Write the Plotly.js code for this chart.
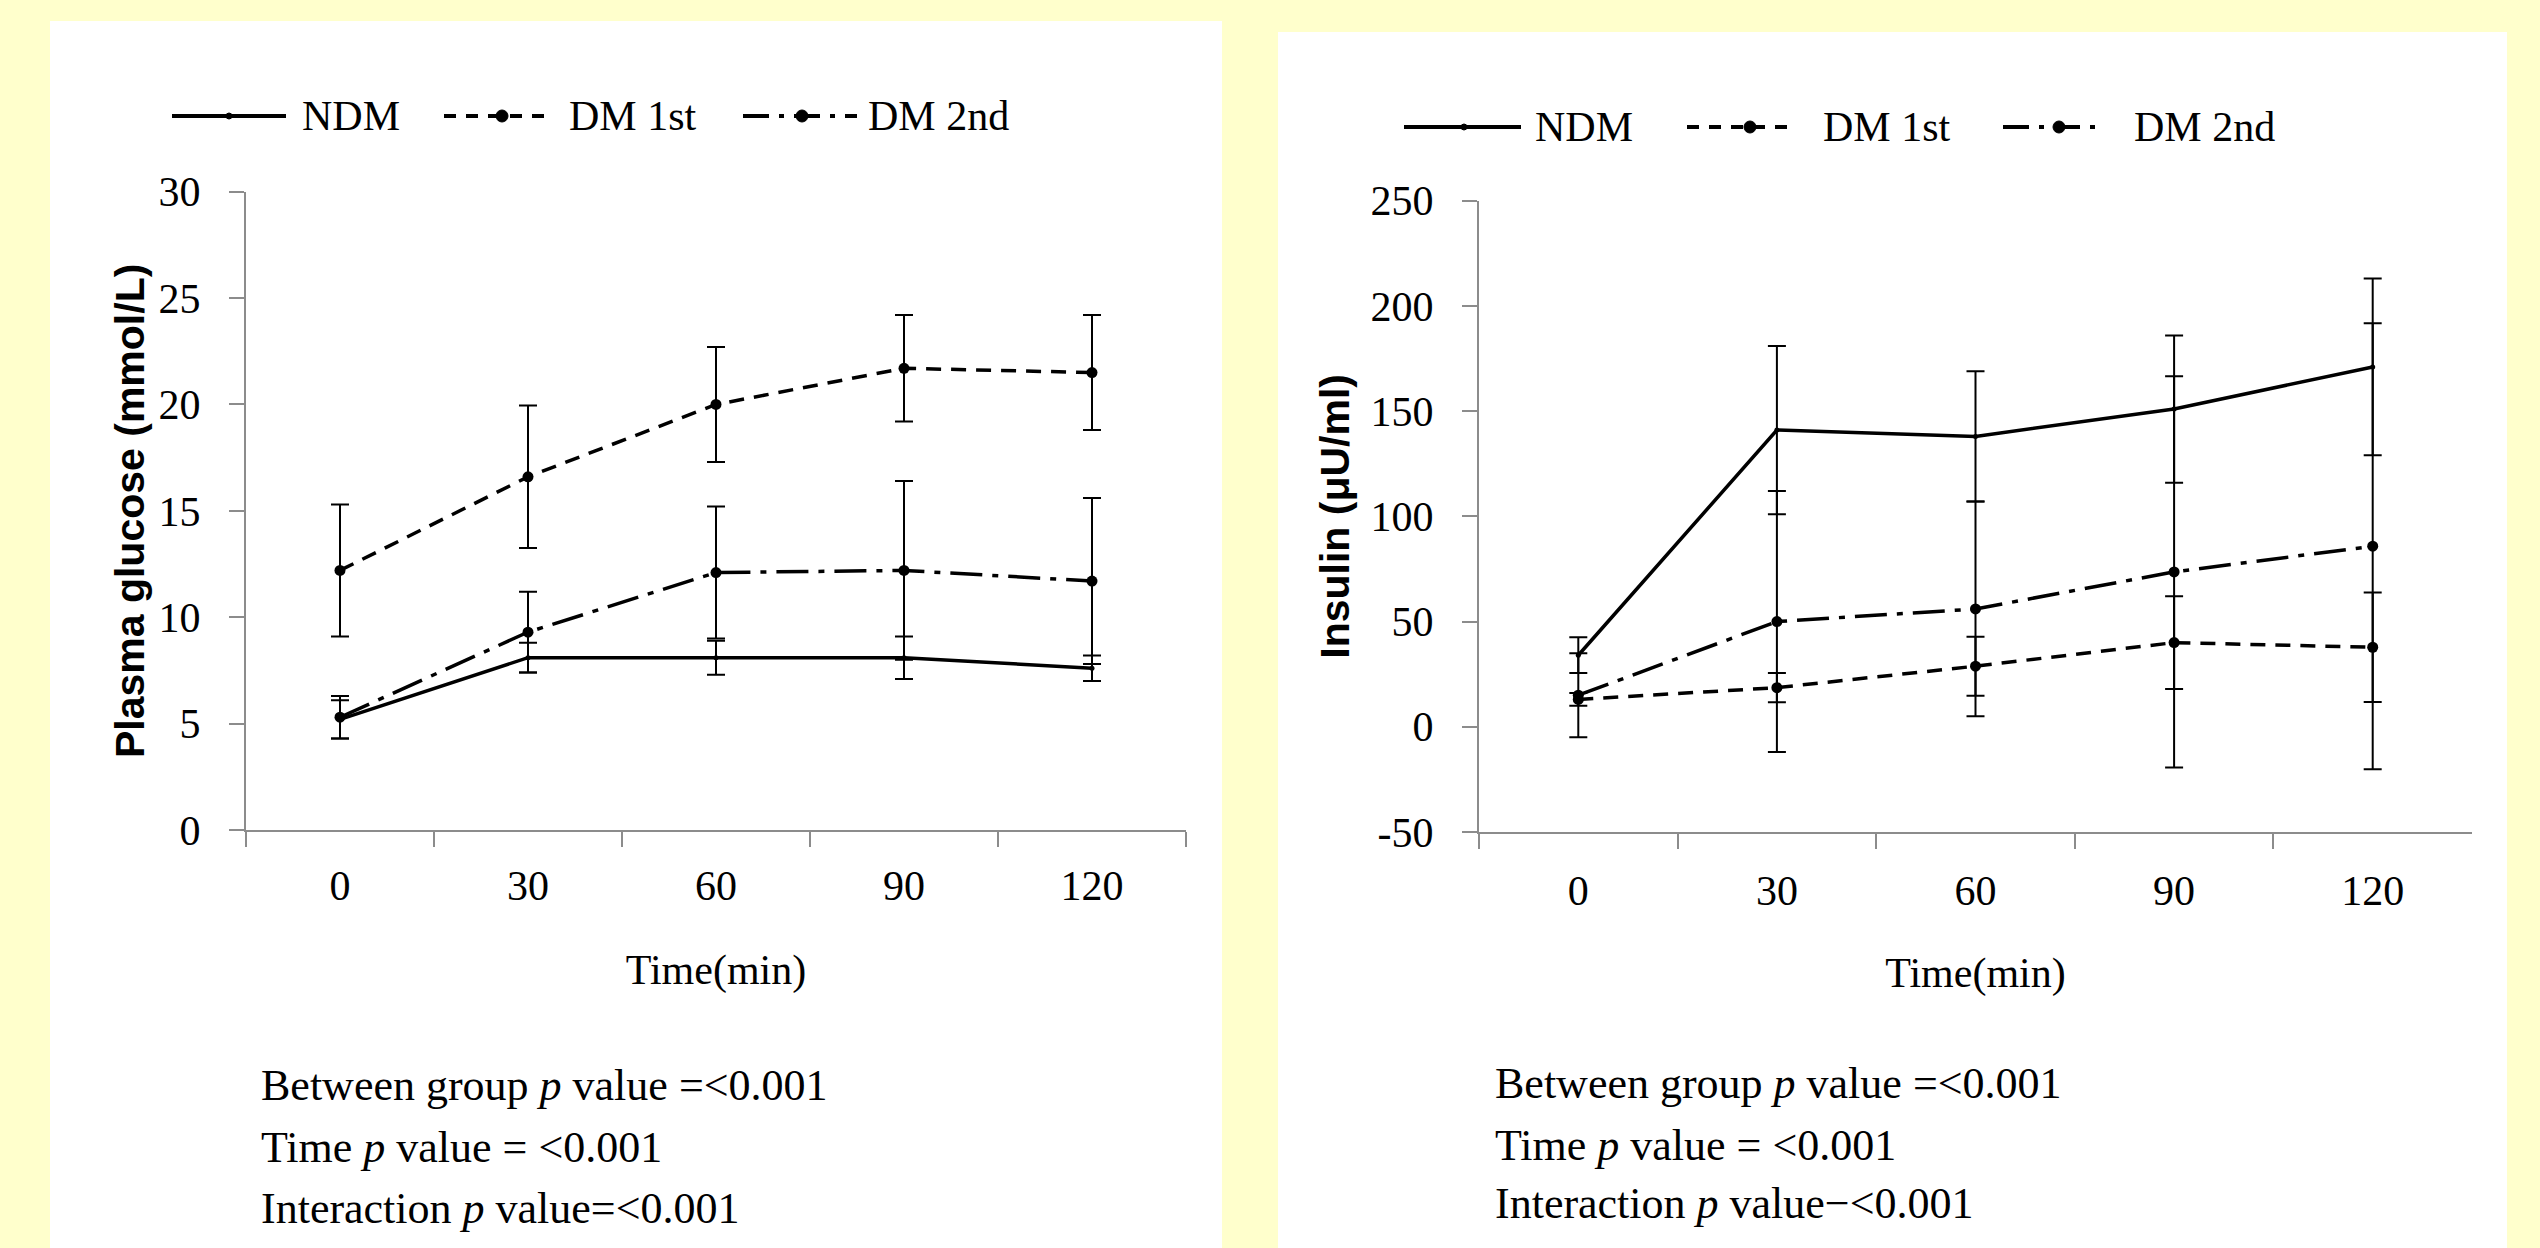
<!DOCTYPE html>
<html>
<head>
<meta charset="utf-8">
<script src="https://cdn.plot.ly/plotly-3.0.1.min.js"></script>
<style>
html,body{margin:0;padding:0;background:#FFFFCC;}
#chart{width:2540px;height:1248px;}
</style>
</head>
<body>
<div id="chart"></div>
<script>
// ---------- DATA ----------
const timeLabels = ['0', '30', '60', '90', '120'];
const seriesNames = ['NDM', 'DM 1st', 'DM 2nd'];

// Plasma glucose (mmol/L)
const glucoseNDM = [5.2, 8.1, 8.1, 8.1, 7.6];
const glucoseNDMErr = [0.9, 0.7, 0.8, 1.0, 0.6];
const glucoseDM1 = [12.2, 16.6, 20.0, 21.7, 21.5];
const glucoseDM1Err = [3.1, 3.35, 2.7, 2.5, 2.7];
const glucoseDM2 = [5.3, 9.3, 12.1, 12.2, 11.7];
const glucoseDM2Err = [1.0, 1.9, 3.1, 4.2, 3.9];
const glucoseTickVals = [0, 5, 10, 15, 20, 25, 30];
const glucoseTickText = ['0', '5', '10', '15', '20', '25', '30'];

// Insulin (μU/ml)
const insulinNDM = [34, 141, 138, 151, 171];
const insulinNDMErr = [8.5, 40, 31, 35, 42];
const insulinDM1 = [13, 18.6, 28.8, 40, 37.8];
const insulinDM1Err = [3, 7, 14, 22, 26];
const insulinDM2 = [15, 50, 56, 73.6, 85.8];
const insulinDM2Err = [20, 62, 51, 93, 106];
const insulinTickVals = [-50, 0, 50, 100, 150, 200, 250];
const insulinTickText = ['-50', '0', '50', '100', '150', '200', '250'];

const statsLines = [
  ['Between group <i>p</i> value =&lt;0.001', 'Time <i>p</i> value = &lt;0.001', 'Interaction <i>p</i> value=&lt;0.001'],
  ['Between group <i>p</i> value =&lt;0.001', 'Time <i>p</i> value = &lt;0.001', 'Interaction <i>p</i> value\u2212&lt;0.001']
];

// ---------- STYLE ----------
const W = 2540, H = 1248;
const px = x => x / W;
const py = y => 1 - y / H;
const SERIF = 'Liberation Serif, Times New Roman, serif';
const SANS = 'Liberation Sans, Arial, sans-serif';
const dashes = ['solid', '15px,10px', '32px,10px,6px,10px'];
const markerSizes = [5, 11, 11];

function mk(xa, ya, y, err, i) {
  return {
    x: timeLabels, y: y, xaxis: xa, yaxis: ya,
    type: 'scatter', mode: 'lines+markers', name: seriesNames[i],
    showlegend: false,
    line: {color: 'black', width: 3.5, dash: dashes[i]},
    marker: {color: 'black', size: markerSizes[i], symbol: 'circle'},
    error_y: {type: 'data', array: err, visible: true, color: 'black', thickness: 2, width: 9}
  };
}

const data = [
  mk('x', 'y', glucoseNDM, glucoseNDMErr, 0),
  mk('x', 'y', glucoseDM1, glucoseDM1Err, 1),
  mk('x', 'y', glucoseDM2, glucoseDM2Err, 2),
  mk('x2', 'y2', insulinNDM, insulinNDMErr, 0),
  mk('x2', 'y2', insulinDM1, insulinDM1Err, 1),
  mk('x2', 'y2', insulinDM2, insulinDM2Err, 2)
];

const axisCommon = {
  showgrid: false, zeroline: false, showline: true,
  linecolor: '#8c8c8c', linewidth: 2,
  ticks: 'outside', ticklen: 15, tickwidth: 2, tickcolor: '#8c8c8c',
  tickfont: {family: SERIF, size: 42, color: 'black'},
  fixedrange: true
};

function xAxis(dom, anchor, tls, tstand) {
  return Object.assign({}, axisCommon, {
    type: 'category', range: [-0.5, 4.5], tickson: 'boundaries',
    domain: dom, anchor: anchor, ticklabelstandoff: tls,
    title: {text: 'Time(min)', font: {family: SERIF, size: 42, color: 'black'}, standoff: tstand}
  });
}

const layout = {
  width: W, height: H,
  paper_bgcolor: '#FFFFCC', plot_bgcolor: 'white',
  margin: {l: 0, r: 0, t: 0, b: 0},
  showlegend: false,
  xaxis: xAxis([px(246), px(1186)], 'y', 18, 46),
  xaxis2: xAxis([px(1479), px(2472)], 'y2', 21, 44),
  yaxis: Object.assign({}, axisCommon, {
    domain: [py(830), py(191.7)], range: [0, 30], anchor: 'x',
    tickmode: 'array', tickvals: glucoseTickVals, ticktext: glucoseTickText,
    ticklabelstandoff: 20,
    title: {text: 'Plasma glucose (mmol/L)', font: {family: SANS, size: 41, color: 'black', weight: 'bold'}, standoff: 1}
  }),
  yaxis2: Object.assign({}, axisCommon, {
    domain: [py(832), py(200.7)], range: [-50, 250], anchor: 'x2',
    tickmode: 'array', tickvals: insulinTickVals, ticktext: insulinTickText,
    ticklabelstandoff: 20,
    title: {text: 'Insulin (\u03bcU/ml)', font: {family: SANS, size: 41, color: 'black', weight: 'bold'}, standoff: 8}
  }),
  shapes: [],
  annotations: []
};

// white panels
layout.shapes.push({type: 'rect', xref: 'paper', yref: 'paper', layer: 'below',
  x0: px(50), x1: px(1222), y0: py(1248), y1: py(21), fillcolor: 'white', line: {width: 0}});
layout.shapes.push({type: 'rect', xref: 'paper', yref: 'paper', layer: 'below',
  x0: px(1278), x1: px(2507), y0: py(1248), y1: py(32), fillcolor: 'white', line: {width: 0}});

// custom legends
const legendDefs = [
  {y: 116, items: [{x0: 172, x1: 286, m: 229, t: 300}, {x0: 444, x1: 544, m: 502, t: 567}, {x0: 743, x1: 857, m: 802, t: 866}]},
  {y: 127, items: [{x0: 1404, x1: 1521, m: 1464, t: 1533}, {x0: 1687, x1: 1796, m: 1750, t: 1821}, {x0: 2003, x1: 2104, m: 2059, t: 2132}]}
];
legendDefs.forEach(L => {
  L.items.forEach((it, i) => {
    layout.shapes.push({type: 'line', xref: 'paper', yref: 'paper',
      x0: px(it.x0), x1: px(it.x1), y0: py(L.y), y1: py(L.y),
      line: {color: 'black', width: 4, dash: i === 0 ? 'solid' : (i === 1 ? '12px,10px' : '26px,10px,5px,10px')}});
    const r = i === 0 ? 3 : 6;
    layout.shapes.push({type: 'circle', xref: 'paper', yref: 'paper',
      x0: px(it.m - r), x1: px(it.m + r), y0: py(L.y + r), y1: py(L.y - r),
      fillcolor: 'black', line: {color: 'black', width: 1}});
    layout.annotations.push({xref: 'paper', yref: 'paper', x: px(it.t), y: py(L.y),
      xanchor: 'left', yanchor: 'middle', showarrow: false, text: seriesNames[i],
      font: {family: SERIF, size: 42, color: 'black'}});
  });
});

// stats text
const statsPos = [{x: 259, ys: [1085, 1147, 1208]}, {x: 1493, ys: [1083, 1145, 1203]}];
statsPos.forEach((s, k) => {
  s.ys.forEach((yy, j) => {
    layout.annotations.push({xref: 'paper', yref: 'paper', x: px(s.x), y: py(yy),
      xanchor: 'left', yanchor: 'middle', showarrow: false, text: statsLines[k][j],
      font: {family: SERIF, size: 44, color: 'black'}});
  });
});

Plotly.newPlot('chart', data, layout, {displayModeBar: false, staticPlot: true});
</script>
</body>
</html>
